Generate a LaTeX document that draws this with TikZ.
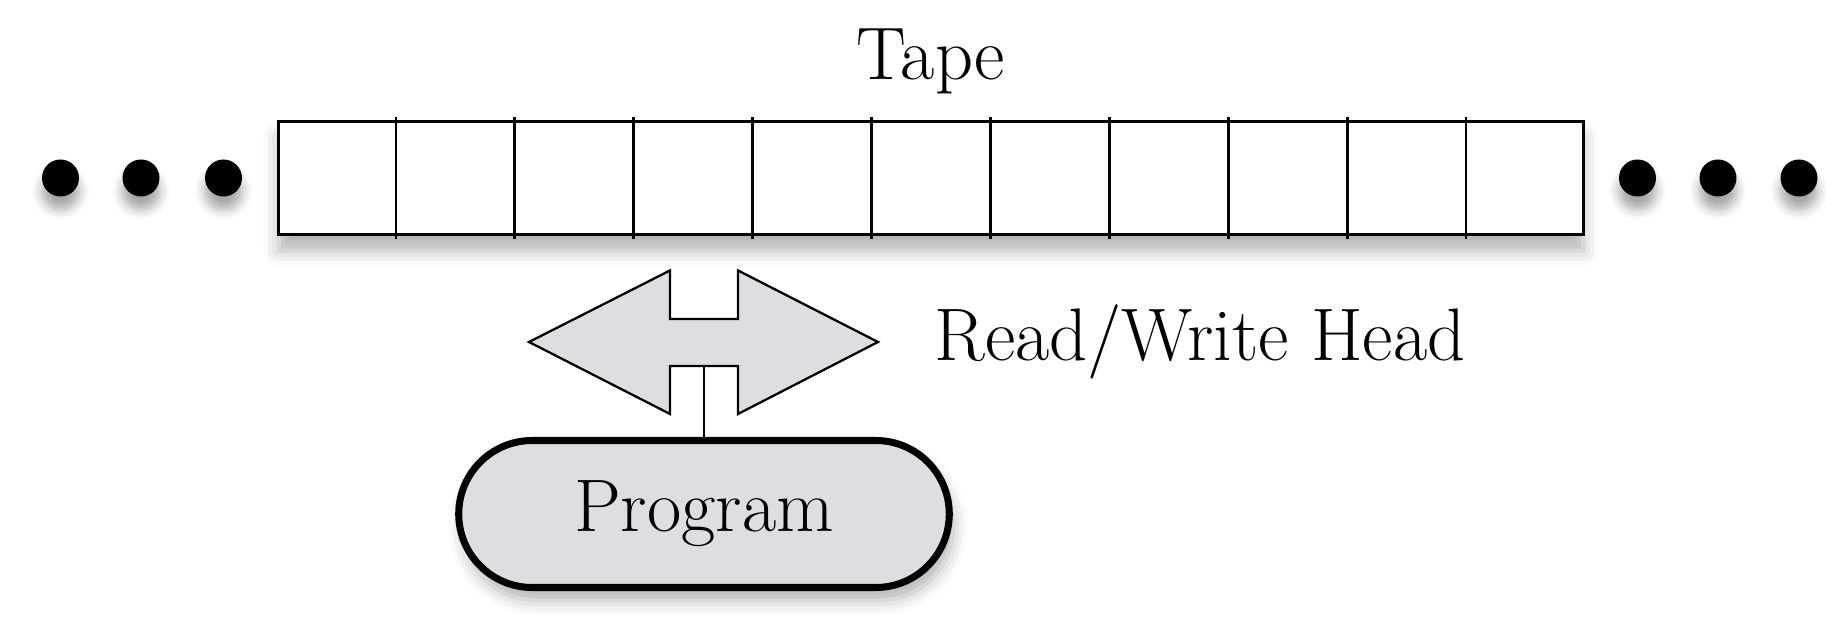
\documentclass[tikz,border=0pt]{standalone}
\usepackage{tikz}
\usetikzlibrary{positioning, calc, shapes.misc, shadows.blur}
\definecolor{headgray}{RGB}{221,222,225}
\tikzset{
  tapebox/.style={
    draw,
    rectangle,
    fill=white,
    line width=0.8pt,
    minimum width=13.05cm,
    minimum height=1.13cm,
    blur shadow={shadow xshift=0mm, shadow yshift=-1.6mm,
                 shadow opacity=30, shadow blur radius=1.5mm}
  },
  divider/.style={
    line width=0.8pt
  },
  dot/.style={
    circle,
    fill=black,
    minimum size=3.7mm,
    inner sep=0pt,
    blur shadow={shadow xshift=0mm, shadow yshift=-1.3mm,
                 shadow opacity=35, shadow blur radius=1mm}
  },
  headshape/.style={
    draw,
    fill=headgray,
    line width=0.65pt
  },
  prog/.style={
    draw,
    rounded rectangle,
    fill=headgray,
    line width=2pt,
    minimum width=5.14cm,
    minimum height=1.47cm,
    blur shadow={shadow xshift=0.4mm, shadow yshift=-1.3mm,
                 shadow opacity=30, shadow blur radius=1.4mm}
  },
  txt/.style={
    font=\fontsize{21.2}{25}\selectfont
  },
  link/.style={
    line width=0.7pt
  }
}

\begin{document}
\begin{tikzpicture}

\useasboundingbox (0,0) rectangle (18.26,6.30);

% --- Bande ---
\node[tapebox] (tape) at (9.31,4.518) {};
\foreach \i in {1,...,10}
  \draw[divider] ($(tape.north west)!\i/11!(tape.north east)+(0,0.03)$)
              -- ($(tape.south west)!\i/11!(tape.south east)+(0,-0.03)$);

\node[txt, above=1.4mm of tape] (tapelbl) {Tape};

% --- Points de suspension ---
\foreach \x [count=\n] in {0.605,1.41,2.235}
  \node[dot] (ldot\n) at (\x,4.52) {};
\foreach \x [count=\n] in {16.375,17.18,17.99}
  \node[dot] (rdot\n) at (\x,4.52) {};

% --- Tete de lecture/ecriture ---
\coordinate (head) at (7.035,2.88);
\draw[headshape, shift={(head)}]
    (-1.745,0) -- (-0.335,0.715) -- (-0.335,0.23) -- (0.345,0.23)
    -- (0.345,0.715) -- (1.745,0) -- (0.345,-0.72) -- (0.345,-0.24)
    -- (-0.335,-0.24) -- (-0.335,-0.72) -- cycle;
\coordinate (tipR) at ($(head)+(1.745,0)$);
\coordinate (notch) at ($(head)+(0.005,-0.24)$);

\node[txt, right=4.4mm of tipR] (headlbl) {Read/Write Head};

% --- Programme ---
\node[prog, txt, below=0.71cm of notch] (program) {Program};
\draw[link] (notch) -- ($(program.north)+(0,-0.06)$);

\end{tikzpicture}
\end{document}
